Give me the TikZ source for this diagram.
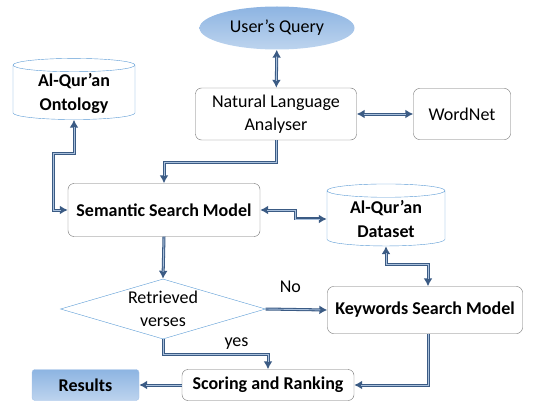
\documentclass[tikz,border=0pt]{standalone}
\usepackage{fontspec}
\setmainfont{Carlito}
\usetikzlibrary{arrows.meta,positioning,shapes.geometric}
\definecolor{linkdark}{HTML}{3B5B84}
\definecolor{linklight}{HTML}{A9C0DC}
\definecolor{dbline}{HTML}{5B9BD5}
\definecolor{boxline}{HTML}{6F6F6F}
\definecolor{qtop}{HTML}{8DB4E2}
\definecolor{qbot}{HTML}{BDD4EE}

\begin{document}
\begin{tikzpicture}[x=1pt, y=-1pt,
  font=\fontsize{18}{20}\selectfont,
  box/.style={draw=boxline, rounded corners=6pt, align=center, inner sep=2pt},
  bold/.style={font=\fontsize{18}{20}\selectfont\bfseries},
  db/.style={cylinder, shape border rotate=90, draw=dbline, thin, fill=white, align=center, aspect=0.18, bold, inner sep=1pt},
  link/.style={draw=linkdark, line width=3pt, -{Latex[length=8pt,width=9pt]},
    postaction={draw=linklight, line width=0.9pt, -, shorten >=7pt}},
  both/.style={draw=linkdark, line width=3pt, {Latex[length=8pt,width=9pt]}-{Latex[length=8pt,width=9pt]},
    postaction={draw=linklight, line width=0.9pt, -, shorten >=7pt, shorten <=7pt}}
]
\useasboundingbox (0,0) rectangle (556,401);
% nodes
\node[ellipse, top color=qtop, bottom color=qbot, minimum width=155, minimum height=43, inner sep=0] (query) at (277,28) {User's Query};
\node[box, minimum width=161, minimum height=52] (nla) at (276,114) {Natural Language\\[3pt]Analyser};
\node[box, minimum width=97, minimum height=51] (wordnet) at (462,114) {WordNet};
\node[db, minimum width=122, minimum height=61] (onto) at (74,93) {Al-Qur'an\\[4pt]Ontology};
\node[box, bold, minimum width=192, minimum height=53] (ssm) at (164,210) {Semantic Search Model};
\node[db, minimum width=118, minimum height=62] (data) at (386,219) {Al-Qur'an\\[4pt]Dataset};
\node[diamond, draw=dbline, thin, minimum width=205, minimum height=60, inner sep=0,
  label={[align=center]center:Retrieved\\[3pt]verses}] (check) at (163,309) {};
\node[box, bold, minimum width=195, minimum height=47] (ksm) at (425,310) {Keywords Search Model};
\node[box, bold, minimum width=172, minimum height=31] (score) at (268,385) {Scoring and Ranking};
\node[bold, rounded corners=3pt, draw=qtop!80, top color=qtop, bottom color=qbot, minimum width=107, minimum height=31] (results) at (85.5,385) {Results};
% connectors
\draw[both] (query) -- (nla);
\draw[both] (nla) -- (wordnet);
\draw[link] (nla.south) -- ++(0,22) -| (ssm.north);
\draw[both] (ssm.west) -| ++(-14,-57) -| (onto.south);
\draw[both] (ssm.east) -- ++(35,0) |- (data.west);
\draw[both] (data.south) -- ++(0,18) -| ([xshift=3]ksm.north);
\draw[link] (ssm.south) -- (check.north);
\draw[link] (check.east) -- node[above=12pt, pos=0.4] {No} (ksm.west);
\draw[link] (check.south) -- ++(0,15) -| node[above, pos=0.35] {yes} (score.north);
\draw[link] ([xshift=3]ksm.south) |- (score.east);
\draw[link] (score.west) -- (results.east);
\end{tikzpicture}
\end{document}
